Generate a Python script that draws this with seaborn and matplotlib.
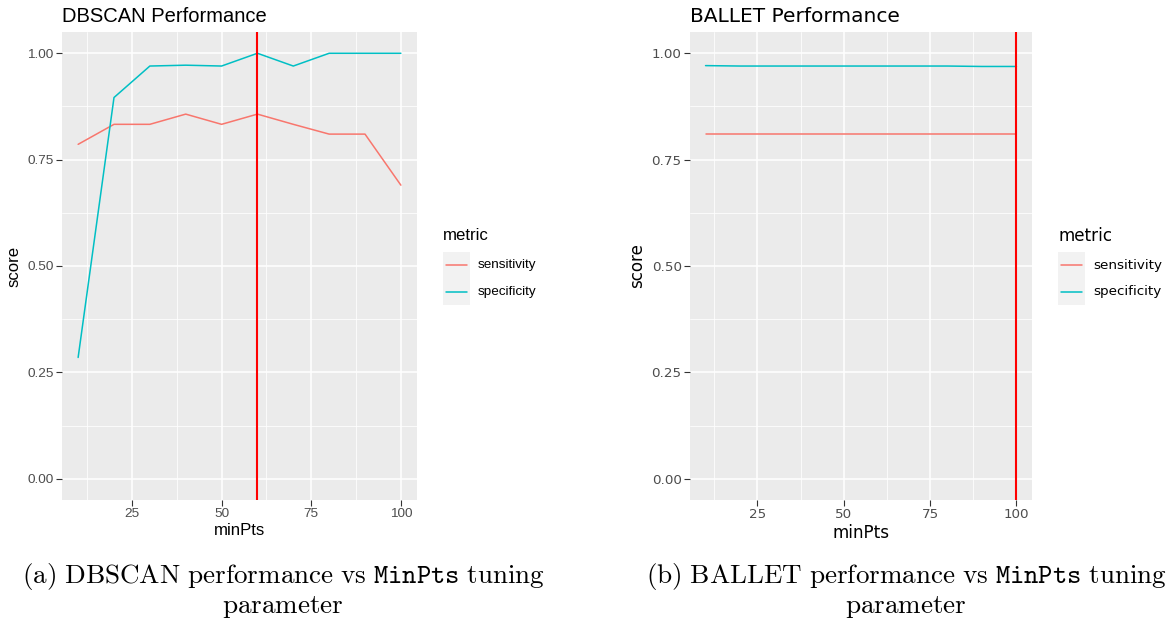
import matplotlib
matplotlib.use("Agg")
import matplotlib.pyplot as plt
from matplotlib.patches import Rectangle
from matplotlib.lines import Line2D
from matplotlib.ticker import MultipleLocator
import numpy as np
import pandas as pd
import seaborn as sns

# minPts values swept for each method
dbscan_minpts = [10, 20, 30, 40, 50, 60, 70, 80, 90, 100]
dbscan_sensitivity = [0.786, 0.833, 0.833, 0.857, 0.833, 0.857, 0.833, 0.810, 0.810, 0.690]
dbscan_specificity = [0.285, 0.896, 0.970, 0.972, 0.970, 1.000, 0.970, 1.000, 1.000, 1.000]
dbscan_best = 60

ballet_minpts = [10, 20, 30, 40, 50, 60, 70, 80, 90, 100]
ballet_sensitivity = [0.810, 0.810, 0.810, 0.810, 0.810, 0.810, 0.810, 0.810, 0.810, 0.810]
ballet_specificity = [0.971, 0.970, 0.970, 0.970, 0.970, 0.970, 0.970, 0.970, 0.969, 0.969]
ballet_best = 100

metrics = ["sensitivity", "specificity"]
palette = {"sensitivity": "#F8766D", "specificity": "#00BFC4"}

x_ticks = [25, 50, 75, 100]
y_ticks = [0.00, 0.25, 0.50, 0.75, 1.00]
y_tick_labels = ["0.00", "0.25", "0.50", "0.75", "1.00"]

captions = [
    (r"$\mathrm{(a)\ DBSCAN\ performance\ vs\ }\mathtt{MinPts}\mathrm{\ tuning}$",
     r"$\mathrm{parameter}$"),
    (r"$\mathrm{(b)\ BALLET\ performance\ vs\ }\mathtt{MinPts}\mathrm{\ tuning}$",
     r"$\mathrm{parameter}$"),
]


def long_frame(x, sens, spec):
    return pd.DataFrame({
        "minPts": list(x) * 2,
        "score": list(sens) + list(spec),
        "metric": [metrics[0]] * len(x) + [metrics[1]] * len(x),
    })


sns.set_theme(style="darkgrid")
plt.rcParams["mathtext.fontset"] = "cm"

W, H = 1167, 622
fig = plt.figure(figsize=(W / 100, H / 100), dpi=100)
fig.patch.set_facecolor("white")


def px_axes(x0, x1, y0, y1):
    return fig.add_axes([x0 / W, 1 - y1 / H, (x1 - x0) / W, (y1 - y0) / H])


def style_panel(ax, family, title, tick_label_pad):
    ax.set_facecolor("#EBEBEB")
    ax.set_xlim(5.5, 104.5)
    ax.set_ylim(-0.05, 1.05)
    ax.xaxis.set_major_locator(MultipleLocator(25))
    ax.xaxis.set_minor_locator(MultipleLocator(12.5))
    ax.yaxis.set_major_locator(MultipleLocator(0.25))
    ax.yaxis.set_minor_locator(MultipleLocator(0.125))
    ax.set_xticks(x_ticks)
    ax.set_yticks(y_ticks)
    ax.set_yticklabels(y_tick_labels)
    ax.grid(which="major", color="white", linewidth=1.1)
    ax.grid(which="minor", color="white", linewidth=0.55)
    ax.set_axisbelow(True)
    for s in ax.spines.values():
        s.set_visible(False)
    ax.tick_params(axis="both", which="major", length=4, width=0.8,
                   color="#333333", labelcolor="#4D4D4D", labelsize=9.7,
                   pad=tick_label_pad, bottom=True, left=True)
    ax.tick_params(axis="both", which="minor", length=0)
    for lab in ax.get_xticklabels() + ax.get_yticklabels():
        lab.set_family(family)
    ax.set_xlabel("minPts", family=family, fontsize=12.1, color="black", labelpad=2)
    ax.set_ylabel("score", family=family, fontsize=12.1, color="black", labelpad=4)
    ax.set_title(title, family=family, fontsize=14.5, loc="left", pad=7, color="black")


panels = [
    dict(x=dbscan_minpts, sens=dbscan_sensitivity, spec=dbscan_specificity, best=dbscan_best,
         box=(62, 417, 32, 500), family="Liberation Sans", title="DBSCAN Performance",
         leg=(443, 236), cap_x=283, cap=captions[0]),
    dict(x=ballet_minpts, sens=ballet_sensitivity, spec=ballet_specificity, best=ballet_best,
         box=(690, 1032, 32, 500), family="DejaVu Sans", title="BALLET Performance",
         leg=(1058, 236), cap_x=906, cap=captions[1]),
]

for p in panels:
    ax = px_axes(*p["box"])
    df = long_frame(p["x"], p["sens"], p["spec"])
    sns.lineplot(data=df, x="minPts", y="score", hue="metric", hue_order=metrics,
                 palette=palette, linewidth=1.1, ax=ax, legend=False)
    ax.axvline(p["best"], color="#FF0000", linewidth=1.5)
    style_panel(ax, p["family"], p["title"], 2)

    # legend: title, grey key background, coloured keys and labels
    lx, ly = p["leg"]
    fam = p["family"]
    fig.text(lx / W, 1 - ly / H, "metric", family=fam, fontsize=12.1,
             ha="left", va="center", color="black")
    key_top = ly + 16
    key_h = 26.5
    fig.patches.append(Rectangle((lx / W, 1 - (key_top + 2 * key_h) / H),
                                 27 / W, 2 * key_h / H, transform=fig.transFigure,
                                 facecolor="#F2F2F2", edgecolor="none", zorder=0))
    for i, m in enumerate(metrics):
        yc = key_top + key_h * (i + 0.5)
        fig.lines.append(Line2D([(lx + 3) / W, (lx + 24) / W], [1 - yc / H, 1 - yc / H],
                                transform=fig.transFigure, color=palette[m], linewidth=1.1))
        fig.text((lx + 35) / W, 1 - yc / H, m, family=fam, fontsize=9.7,
                 ha="left", va="center", color="black")

    # subfigure caption
    fig.text(p["cap_x"] / W, 1 - 583 / H, p["cap"][0], fontsize=19.5,
             ha="center", va="baseline", color="black")
    fig.text(p["cap_x"] / W, 1 - 613 / H, p["cap"][1], fontsize=19.5,
             ha="center", va="baseline", color="black")

fig.savefig("out.png", dpi=100)
